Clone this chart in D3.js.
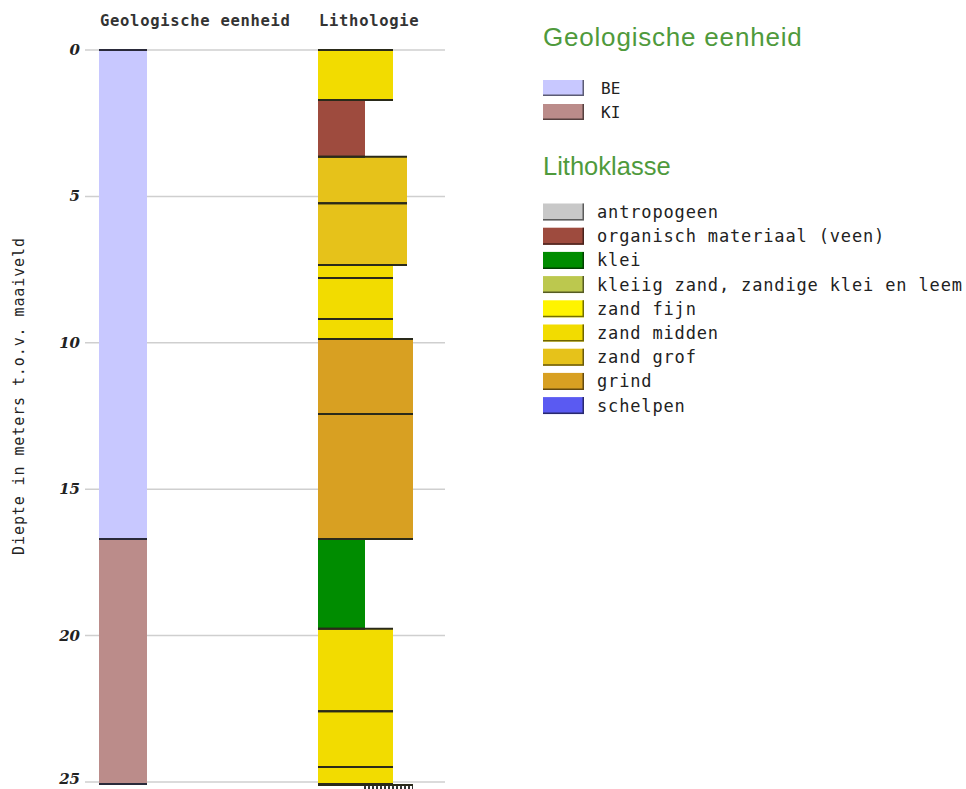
<!DOCTYPE html>
<html><head><meta charset="utf-8">
<script src="https://cdn.jsdelivr.net/npm/d3@7"></script>
<style>body{margin:0;background:#fff;overflow:hidden}</style>
</head><body>
<svg id="c" width="966" height="789"></svg>
<script>
// ---- data ----
const geoUnits = ["BE", "KI"];
const geoColors = ["#c8c8ff", "#bb8c8a"];
const geoTop = [0, 16.70];
const geoBottom = [16.70, 25.07];
const geoUnit = ["BE", "KI"];

const lithoClasses = ["antropogeen", "organisch materiaal (veen)", "klei", "kleiig zand, zandige klei en leem",
  "zand fijn", "zand midden", "zand grof", "grind", "schelpen"];
const lithoColors = ["#c8c8c8", "#9e4b3e", "#008c00", "#bcc84e", "#fff400", "#f2dc00", "#e6c21a", "#d8a022", "#5a5af2"];
const lithoGrain = [1, 1, 1, 2, 3, 3, 4, 5, 1]; // relative grain-size rank

const layerTop =    [0,    1.71, 3.65, 5.23, 7.34, 7.79, 9.19, 9.87, 12.43, 16.70, 19.77, 22.58, 24.49];
const layerBottom = [1.71, 3.65, 5.23, 7.34, 7.79, 9.19, 9.87, 12.43, 16.70, 19.77, 22.58, 24.49, 25.07];
const layerClass =  ["zand midden", "organisch materiaal (veen)", "zand grof", "zand grof", "zand midden", "zand midden",
  "zand midden", "grind", "grind", "klei", "zand midden", "zand midden", "zand midden"];

const depthTicks = [0, 5, 10, 15, 20, 25];
const columnTitles = ["Geologische eenheid", "Lithologie"];
const yLabel = "Diepte in meters t.o.v. maaiveld";
const legendTitles = ["Geologische eenheid", "Lithoklasse"];

// ---- drawing ----
const svg = d3.select("#c");
const mono = "'DejaVu Sans Mono', monospace";
const y = d3.scaleLinear().domain([0, 25]).range([50, 782]);
const gridX0 = 85, gridX1 = 445;
const geoX = 99, geoW = 48;
const lithX = 318;
const widthScale = d3.scaleOrdinal().domain([1, 2, 3, 4, 5]).range([47, 61, 75, 89, 95]);
const cByClass = d3.scaleOrdinal().domain(lithoClasses).range(lithoColors);
const gByClass = d3.scaleOrdinal().domain(lithoClasses).range(lithoGrain);
const geoC = d3.scaleOrdinal().domain(geoUnits).range(geoColors);

// grid
svg.append("g").selectAll("line").data(depthTicks).join("line")
  .attr("x1", gridX0).attr("x2", gridX1).attr("y1", d => y(d)).attr("y2", d => y(d))
  .attr("stroke", "#cfcfcf").attr("stroke-width", 1.5);

// axis labels
const axis = d3.axisLeft(y).tickValues(depthTicks).tickSize(0).tickPadding(0);
const ag = svg.append("g").attr("transform", `translate(80,0)`).call(axis);
ag.select(".domain").remove();
ag.selectAll("text").attr("font-family", "'DejaVu Serif', serif").attr("font-weight", "bold")
  .attr("font-style", "italic").attr("font-size", 15).attr("fill", "#222")
  .attr("dy", d => d === 25 ? "0.1em" : "0.3em");

// y label
svg.append("text").attr("transform", "translate(24,396) rotate(-90)").attr("text-anchor", "middle")
  .attr("font-family", mono).attr("font-size", 15).attr("letter-spacing", 0.9).attr("fill", "#222").text(yLabel);

// column titles
svg.append("text").attr("x", 100).attr("y", 26).attr("font-family", mono).attr("font-weight", "bold")
  .attr("font-size", 15.5).attr("letter-spacing", 0.7).attr("fill", "#333").text(columnTitles[0]);
svg.append("text").attr("x", 319).attr("y", 26).attr("font-family", mono).attr("font-weight", "bold")
  .attr("font-size", 15.5).attr("letter-spacing", 0.7).attr("fill", "#333").text(columnTitles[1]);

// geology column
const geoData = geoUnit.map((u, i) => ({u, t: geoTop[i], b: geoBottom[i]}));
svg.append("g").selectAll("rect").data(geoData).join("rect")
  .attr("x", geoX).attr("width", geoW).attr("y", d => y(d.t)).attr("height", d => y(d.b) - y(d.t))
  .attr("fill", d => geoC(d.u));
const geoLines = svg.append("g");
geoData.forEach(d => {
  [d.t, d.b].forEach(v => geoLines.append("line").attr("x1", geoX).attr("x2", geoX + geoW)
    .attr("y1", y(v)).attr("y2", y(v)).attr("stroke", "#2a2a3a").attr("stroke-width", 2));
});

// lithology column
const lithData = layerClass.map((c, i) => ({c, t: layerTop[i], b: layerBottom[i], w: widthScale(gByClass(c))}));
svg.append("g").selectAll("rect").data(lithData).join("rect")
  .attr("x", lithX).attr("width", d => d.w).attr("y", d => y(d.t)).attr("height", d => y(d.b) - y(d.t))
  .attr("fill", d => cByClass(d.c));
const lithLines = svg.append("g");
lithData.forEach(d => {
  [d.t, d.b].forEach(v => lithLines.append("line").attr("x1", lithX).attr("x2", lithX + d.w)
    .attr("y1", y(v)).attr("y2", y(v)).attr("stroke", "#2a2a1a").attr("stroke-width", 2));
});
// start of next (cut-off) layer at the bottom edge
lithLines.append("line").attr("x1", lithX).attr("x2", lithX + widthScale(5))
  .attr("y1", y(25.07) + 1).attr("y2", y(25.07) + 1).attr("stroke", "#2a2a1a").attr("stroke-width", 2);
const defs = svg.append("defs");
const pat = defs.append("pattern").attr("id", "hatch").attr("width", 4).attr("height", 6).attr("patternUnits", "userSpaceOnUse");
pat.append("rect").attr("width", 4).attr("height", 6).attr("fill", "#fff");
pat.append("rect").attr("width", 2).attr("height", 6).attr("fill", "#333");
svg.append("rect").attr("x", lithX + 45).attr("y", y(25.07) + 2).attr("width", 50).attr("height", 6).attr("fill", "url(#hatch)");

// legends
function swatch(g, x, yy, w, h, fill) {
  g.append("rect").attr("x", x).attr("y", yy).attr("width", w).attr("height", h).attr("fill", fill);
  const dk = d3.color(fill).darker(2.2).formatHex();
  g.append("path").attr("d", `M${x},${yy + h - 0.75}H${x + w - 0.75}V${yy}`).attr("fill", "none")
    .attr("stroke", dk).attr("stroke-width", 1.5);
}
const lg = svg.append("g");
lg.append("text").attr("x", 543).attr("y", 46).attr("font-family", "'Liberation Sans', Arial, sans-serif")
  .attr("font-size", 26).attr("letter-spacing", 0.8).attr("fill", "#4f9a3c").text(legendTitles[0]);
geoUnits.forEach((u, i) => {
  const cy = 88 + i * 24;
  swatch(lg, 543, cy - 8, 41, 16, geoColors[i]);
  lg.append("text").attr("x", 601).attr("y", cy).attr("dy", "0.35em").attr("font-family", mono)
    .attr("font-size", 16).attr("fill", "#222").text(u);
});
lg.append("text").attr("x", 543).attr("y", 175).attr("font-family", "'Liberation Sans', Arial, sans-serif")
  .attr("font-size", 25.5).attr("fill", "#4f9a3c").text(legendTitles[1]);
lithoClasses.forEach((c, i) => {
  const cy = 212 + i * 24.2;
  swatch(lg, 543, cy - 8.5, 41, 17, lithoColors[i]);
  lg.append("text").attr("x", 597).attr("y", cy).attr("dy", "0.35em").attr("font-family", mono)
    .attr("font-size", 17).attr("letter-spacing", 0.85).attr("fill", "#222").text(c);
});
</script>
</body></html>
